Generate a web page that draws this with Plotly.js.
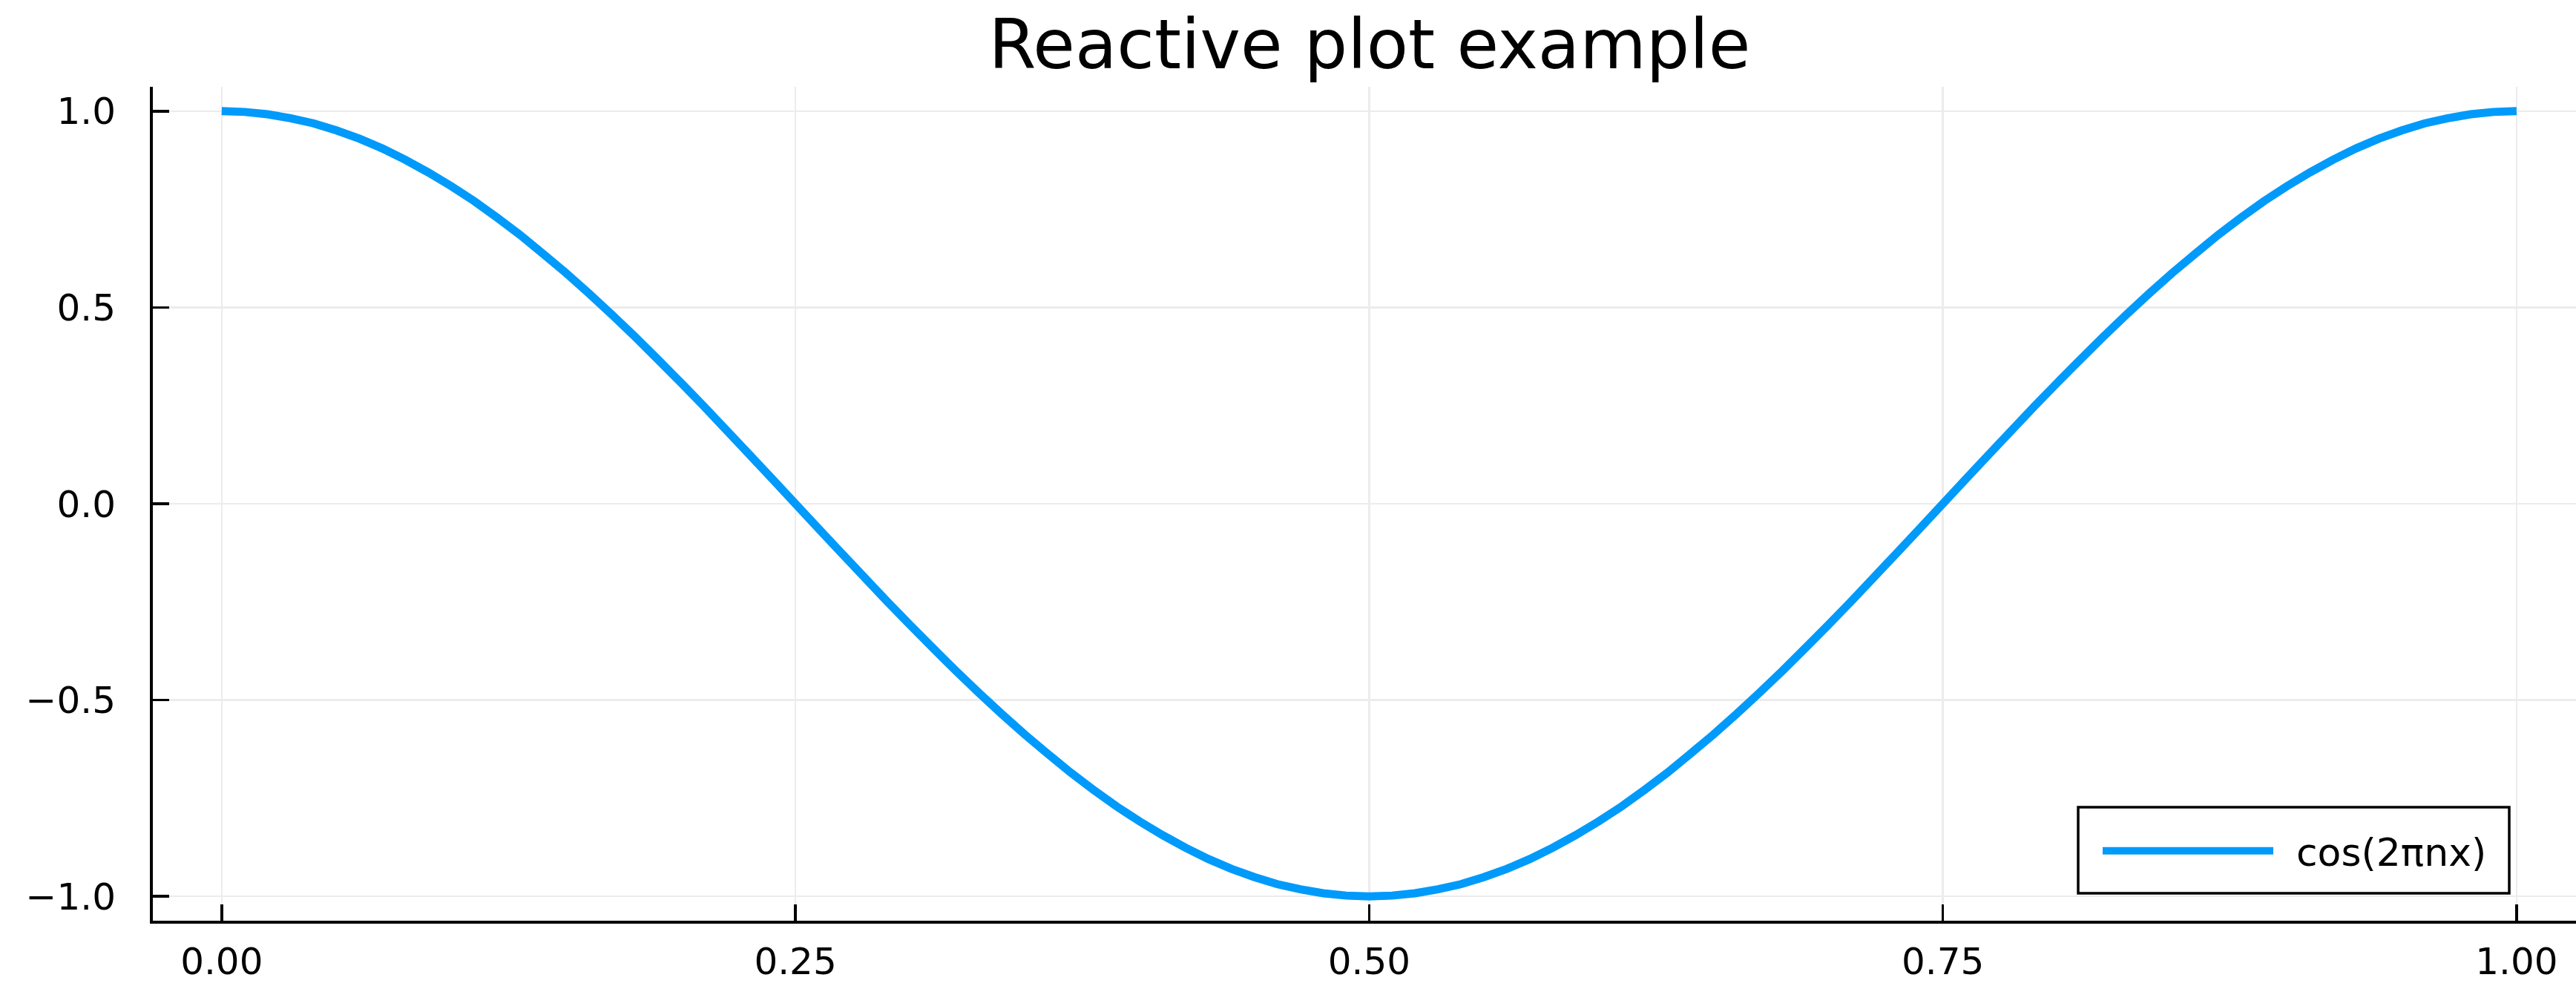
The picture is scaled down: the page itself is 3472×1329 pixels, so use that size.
<!DOCTYPE html>
<html>
<head>
<meta charset="utf-8">
<script src="https://cdn.plot.ly/plotly-3.0.1.min.js"></script>
<style>
html,body{margin:0;padding:0;background:#fff;overflow:hidden;}
#chart{width:3472px;height:1329px;}
</style>
</head>
<body>
<div id="chart"></div>
<script>
// Data
var xValues = [0.00,0.01,0.02,0.03,0.04,0.05,0.06,0.07,0.08,0.09,
               0.10,0.11,0.12,0.13,0.14,0.15,0.16,0.17,0.18,0.19,
               0.20,0.21,0.22,0.23,0.24,0.25,0.26,0.27,0.28,0.29,
               0.30,0.31,0.32,0.33,0.34,0.35,0.36,0.37,0.38,0.39,
               0.40,0.41,0.42,0.43,0.44,0.45,0.46,0.47,0.48,0.49,
               0.50,0.51,0.52,0.53,0.54,0.55,0.56,0.57,0.58,0.59,
               0.60,0.61,0.62,0.63,0.64,0.65,0.66,0.67,0.68,0.69,
               0.70,0.71,0.72,0.73,0.74,0.75,0.76,0.77,0.78,0.79,
               0.80,0.81,0.82,0.83,0.84,0.85,0.86,0.87,0.88,0.89,
               0.90,0.91,0.92,0.93,0.94,0.95,0.96,0.97,0.98,0.99,1.00];
var yValues = [1.000,0.998,0.992,0.982,0.969,0.951,0.930,0.905,0.876,0.844,
               0.809,0.771,0.729,0.685,0.637,0.588,0.536,0.482,0.426,0.368,
               0.309,0.249,0.187,0.125,0.063,0.000,-0.063,-0.125,-0.187,-0.249,
               -0.309,-0.368,-0.426,-0.482,-0.536,-0.588,-0.637,-0.685,-0.729,-0.771,
               -0.809,-0.844,-0.876,-0.905,-0.930,-0.951,-0.969,-0.982,-0.992,-0.998,
               -1.000,-0.998,-0.992,-0.982,-0.969,-0.951,-0.930,-0.905,-0.876,-0.844,
               -0.809,-0.771,-0.729,-0.685,-0.637,-0.588,-0.536,-0.482,-0.426,-0.368,
               -0.309,-0.249,-0.187,-0.125,-0.063,0.000,0.063,0.125,0.187,0.249,
               0.309,0.368,0.426,0.482,0.536,0.588,0.637,0.685,0.729,0.771,
               0.809,0.844,0.876,0.905,0.930,0.951,0.969,0.982,0.992,0.998,1.000];
var seriesName = "cos(2πnx)";
var chartTitle = "Reactive plot example";
var xTickVals = [0, 0.25, 0.5, 0.75, 1];
var xTickText = ["0.00", "0.25", "0.50", "0.75", "1.00"];
var yTickVals = [-1, -0.5, 0, 0.5, 1];
var yTickText = ["\u22121.0", "\u22120.5", "0.0", "0.5", "1.0"];

var FONT = "DejaVu Sans, Liberation Sans, sans-serif";

var trace = {
  x: xValues,
  y: yValues,
  type: "scatter",
  mode: "lines",
  name: "\u2002" + seriesName,
  line: {color: "#009AFA", width: 11, simplify: false, shape: "linear"}
};

var axisCommon = {
  showline: true,
  linecolor: "#000",
  linewidth: 4,
  mirror: false,
  ticks: "inside",
  ticklen: 22,
  tickwidth: 3.5,
  tickcolor: "#000",
  showgrid: true,
  gridcolor: "#ececec",
  gridwidth: 2.5,
  zeroline: false,
  tickfont: {family: FONT, size: 50, color: "#000"},
  tickmode: "array"
};

// plot area in pixels: left 206, right 3472 (axis continues past the edge), top 117, bottom 1241
var layout = {
  width: 3472,
  height: 1329,
  paper_bgcolor: "#fff",
  plot_bgcolor: "#fff",
  margin: {l: 206, r: 0, t: 117, b: 88, pad: 0},
  title: {
    text: chartTitle,
    font: {family: FONT, size: 92, color: "#000"},
    xref: "container", x: 1846/3472, xanchor: "center",
    yref: "container", y: 1 - 60/1329, yanchor: "middle"
  },
  xaxis: Object.assign({}, axisCommon, {
    range: [-0.03, 1.0259],
    tickvals: xTickVals,
    ticktext: xTickText,
    ticklabelstandoff: 8
  }),
  yaxis: Object.assign({}, axisCommon, {
    range: [-1.062, 1.062],
    tickvals: yTickVals,
    ticktext: yTickText,
    ticklabelstandoff: 36
  }),
  shapes: [{
    type: "rect", xref: "paper", yref: "paper",
    x0: (2801-206)/3266, x1: (3382-206)/3266,
    y0: (1241-1204)/1124, y1: (1241-1088)/1124,
    line: {color: "#000", width: 3.5},
    fillcolor: "#fff",
    layer: "above"
  }],
  showlegend: true,
  legend: {
    x: (2829-206)/3266, xanchor: "left",
    y: (1241-1147)/1124, yanchor: "middle",
    bgcolor: "rgba(0,0,0,0)",
    borderwidth: 0,
    font: {family: FONT, size: 52, color: "#000"},
    itemwidth: 230
  }
};

Plotly.newPlot("chart", [trace], layout, {displayModeBar: false, staticPlot: true});
</script>
</body>
</html>
